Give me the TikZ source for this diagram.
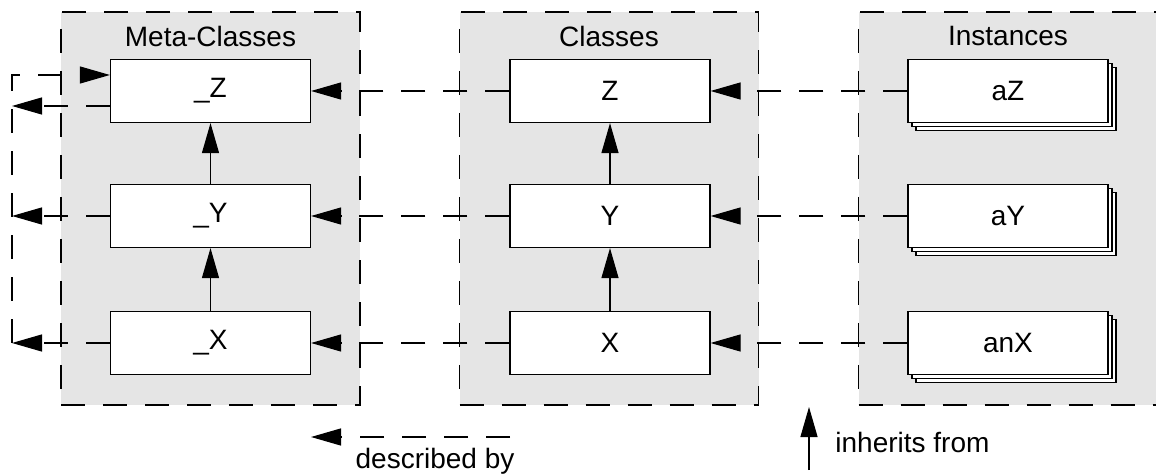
\documentclass[tikz,border=0pt]{standalone}
\usepackage{fontspec}
\setmainfont{Liberation Sans}
\usepackage{tikz}
\usetikzlibrary{calc,positioning,arrows.meta,shadows}
\usepackage{xcolor}

\begin{document}
\begin{tikzpicture}[x=0.5pt, y=-0.5pt,
  panel/.style={rectangle, draw, fill=gray!20, line width=0.6pt,
    dash pattern=on 12pt off 9pt, minimum width=149.5pt,
    minimum height=196.5pt, inner sep=0pt},
  title/.style={font=\fontsize{14pt}{16pt}\selectfont, inner sep=0pt},
  cls/.style={rectangle, draw, fill=white, line width=0.6pt,
    minimum width=100pt, minimum height=31.5pt, inner sep=0pt,
    font=\fontsize{14pt}{16pt}\selectfont},
  inst/.style={cls, double copy shadow={shadow xshift=2pt, shadow yshift=-2pt}},
  legend/.style={font=\fontsize{14pt}{16pt}\selectfont, inner sep=0pt},
  every edge/.style={draw, line width=0.6pt, -{Triangle[length=15pt, width=8.5pt]}},
  desc/.style={draw, line width=0.6pt, dash pattern=on 12pt off 9pt,
    -{Triangle[length=15pt, width=8.5pt]}},
]
  \useasboundingbox (0,0) rectangle (1156,475);

  % === Panels ===
  \node[panel] (metaP) at (210.5,208.5) {};
  \node[panel] (clsP)  at (609,208.5) {};
  \node[panel] (instP) at (1008,208.5) {};

  \node[title] (metaT) at (210.5,36) {Meta-Classes};
  \node[title] (clsT)  at (609,36) {Classes};
  \node[title] (instT) at (1008,36) {Instances};

  % === Meta-classes ===
  \node[cls] (mZ) at (210.5,91) {\_Z};
  \node[cls] (mY) at (210.5,216) {\_Y};
  \node[cls] (mX) at (210.5,343) {\_X};

  % === Classes ===
  \node[cls] (cZ) at (610,91) {Z};
  \node[cls] (cY) at (610,216) {Y};
  \node[cls] (cX) at (610,343) {X};

  % === Instances ===
  \node[inst] (iZ) at (1008,91) {aZ};
  \node[inst] (iY) at (1008,216) {aY};
  \node[inst] (iX) at (1008,343) {anX};

  % === Inheritance ===
  \path (mX) edge (mY);
  \path (mY) edge (mZ);
  \path (cX) edge (cY);
  \path (cY) edge (cZ);

  % === Described by ===
  \path (iZ) edge[desc] (cZ);
  \path (iY) edge[desc] (cY);
  \path (iX) edge[desc] (cX);
  \path (cZ) edge[desc] (mZ);
  \path (cY) edge[desc] (mY);
  \path (cX) edge[desc] (mX);

  % === Loop back to _Z ===
  \coordinate (mZin)  at ($(mZ.west)+(0,-16)$);
  \coordinate (mZout) at ($(mZ.west)+(0,15)$);
  \coordinate (loopTop) at (12,75);
  \coordinate (loopZ) at (12,106);
  \coordinate (loopY) at (12,216);
  \coordinate (loopX) at (12,343);
  \path (mZout) edge[desc] (loopZ);
  \path (mY) edge[desc] (loopY);
  \path (mX) edge[desc] (loopX);
  \draw[desc] (loopX) -- (loopTop) -- (mZin);

  % === Legend ===
  \coordinate (dbFrom) at (510,437);
  \coordinate (dbTo)   at (311,437);
  \path (dbFrom) edge[desc] (dbTo);
  \node[legend, anchor=base] (dbText) at (435,468) {described by};

  \coordinate (ihFrom) at (809,470);
  \coordinate (ihTo)   at (809,407);
  \path (ihFrom) edge (ihTo);
  \node[legend, anchor=base west] (ihText) at (835,452) {inherits from};

\end{tikzpicture}
\end{document}
